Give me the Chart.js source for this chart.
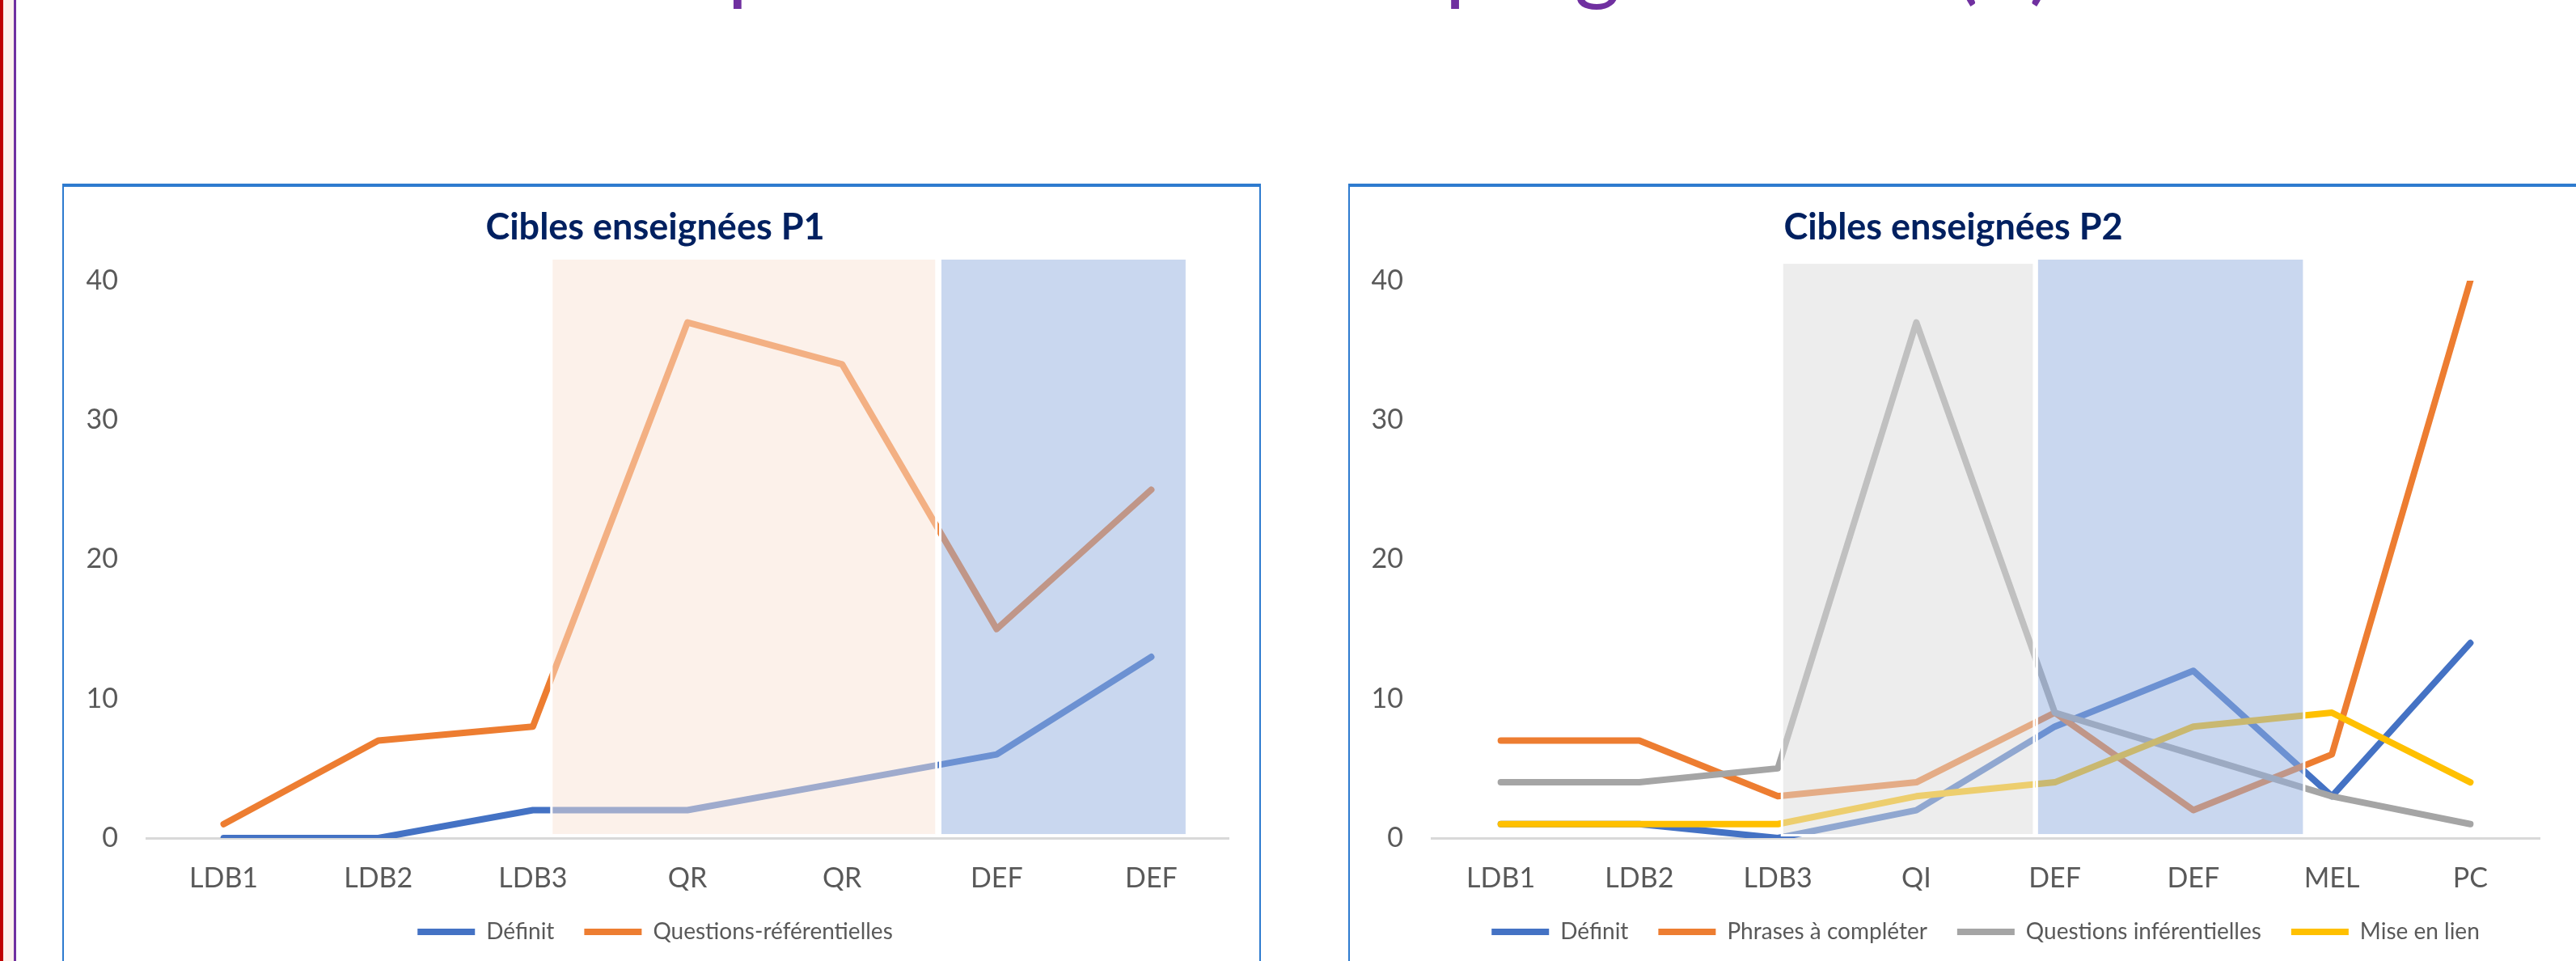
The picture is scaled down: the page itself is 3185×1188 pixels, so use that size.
<!DOCTYPE html>
<html lang="fr">
<head>
<meta charset="utf-8">
<title>Cibles enseignées P1 / P2</title>
<script src="https://cdn.jsdelivr.net/npm/chart.js@4.4.1/dist/chart.umd.min.js"></script>
<style>
  html, body { margin: 0; padding: 0; background: #fff; }
  body { width: 3185px; height: 1188px; position: relative; overflow: hidden; font-family: Lato, sans-serif; }
  .bord-rouge { position: absolute; left: 0; top: 0; width: 4px; height: 100%; background: #C00000; }
  .bord-rose { position: absolute; left: 4px; top: 0; width: 13px; height: 100%; background: #FDF1EC; }
  .bord-violet { position: absolute; left: 17px; top: 0; width: 3px; height: 100%; background: #7030A0; }
  .titre { position: absolute; left: 676px; top: -105px; font-size: 109px; line-height: 109px; color: #7030A0; white-space: nowrap; }
  .panneau { position: absolute; top: 227px; height: 994px; border: 2px solid #2E7BCF; border-top-width: 4px; background: #fff; }
  #p1 { left: 77px; width: 1478px; }
  #p2 { left: 1667px; width: 1526px; }
  canvas { display: block; }
</style>
</head>
<body>
<div class="bord-rouge"></div>
<div class="bord-rose"></div>
<div class="bord-violet"></div>
<div class="titre">Comparaison des deux progressions (1)</div>

<div class="panneau" id="p1"><canvas id="chartP1" width="1478" height="994"></canvas></div>
<div class="panneau" id="p2"><canvas id="chartP2" width="1526" height="994"></canvas></div>

<script>
// Données P1
const categoriesP1 = ['LDB1', 'LDB2', 'LDB3', 'QR', 'QR', 'DEF', 'DEF'];
const definitP1 = [0, 0, 2, 2, 4, 6, 13];
const questionsRefP1 = [1, 7, 8, 37, 34, 15, 25];

// Données P2
const categoriesP2 = ['LDB1', 'LDB2', 'LDB3', 'QI', 'DEF', 'DEF', 'MEL', 'PC'];
const definitP2 = [1, 1, 0, 2, 8, 12, 3, 14];
const phrasesP2 = [7, 7, 3, 4, 9, 2, 6, 40];
const questionsInfP2 = [4, 4, 5, 37, 9, 6, 3, 1];
const miseEnLienP2 = [1, 1, 1, 3, 4, 8, 9, 4];

// Axe des valeurs
const yMin = 0;
const yMax = 40;
const yPas = 10;

const BLEU = '#4472C4';
const ORANGE = '#ED7D31';
const GRIS = '#A5A5A5';
const JAUNE = '#FFC000';
const POLICE = 'Lato';

// Rectangles semi-transparents posés par-dessus les courbes (en unités d'axe)
function pluginZones(zones) {
  return {
    id: 'zones',
    afterDatasetsDraw(chart) {
      const { ctx, scales: { x, y } } = chart;
      ctx.save();
      zones.forEach(z => {
        const x0 = x.getPixelForValue(z.de);
        const x1 = x.getPixelForValue(z.a);
        const y0 = y.getPixelForValue(z.haut);
        const y1 = y.getPixelForValue(z.bas);
        ctx.fillStyle = z.couleur;
        ctx.fillRect(x0, y0, x1 - x0, y1 - y0);
        ctx.strokeStyle = '#ffffff';
        ctx.lineWidth = 3;
        ctx.strokeRect(x0, y0, x1 - x0, y1 - y0);
      });
      ctx.restore();
    }
  };
}

// la dernière série est dessinée au-dessus, comme dans Excel
function serie(label, data, couleur, rang) {
  return {
    label: label,
    data: data,
    order: 10 - rang,
    borderColor: couleur,
    backgroundColor: couleur,
    borderWidth: 8,
    pointRadius: 0,
    pointHoverRadius: 0,
    tension: 0,
    borderJoinStyle: 'round',
    borderCapStyle: 'round',
    fill: false
  };
}

function creerGraphique(id, titre, categories, datasets, zones, marges, legendePleine) {
  const ctx = document.getElementById(id).getContext('2d');
  return new Chart(ctx, {
    type: 'line',
    data: { labels: categories, datasets: datasets },
    plugins: [pluginZones(zones)],
    options: {
      responsive: false,
      animation: false,
      layout: { padding: { left: marges.gauche, right: marges.droite, top: 0, bottom: 49 } },
      plugins: {
        title: {
          display: true,
          text: titre,
          color: '#002060',
          font: { family: POLICE, size: 45, weight: 'bold' },
          padding: { top: 23, bottom: 39 }
        },
        legend: {
          position: 'bottom',
          fullSize: legendePleine,
          labels: {
            usePointStyle: true,
            pointStyle: 'line',
            pointStyleWidth: 71,
            color: '#595959',
            font: { family: POLICE, size: 28 },
            padding: 37,
            sort: (a, b) => a.datasetIndex - b.datasetIndex
          }
        },
        tooltip: { enabled: false }
      },
      scales: {
        x: {
          offset: true,
          grid: { display: false, drawTicks: false },
          border: { display: true, color: '#D9D9D9', width: 3 },
          ticks: { color: '#595959', font: { family: POLICE, size: 34, lineHeight: 1 }, padding: 33, maxRotation: 0, autoSkip: false },
          afterFit: s => { s.height = 65; }
        },
        y: {
          min: yMin,
          max: yMax,
          grid: { display: false, drawTicks: false },
          border: { display: false },
          ticks: { stepSize: yPas, color: '#595959', font: { family: POLICE, size: 34 }, padding: 35 },
          afterFit: s => { s.width = 80; }
        }
      }
    }
  });
}

creerGraphique('chartP1', 'Cibles enseignées P1', categoriesP1, [
  serie('Définit', definitP1, BLEU, 0),
  serie('Questions-référentielles', questionsRefP1, ORANGE, 1)
], [
  { de: 2.12, a: 4.61, bas: 0.2, haut: 41.6, couleur: 'rgba(249, 227, 213, 0.5)' },
  { de: 4.635, a: 6.23, bas: 0.2, haut: 41.6, couleur: 'rgba(147, 175, 223, 0.5)' }
], { gauche: 22, droite: 38 }, true);

creerGraphique('chartP2', 'Cibles enseignées P2', categoriesP2, [
  serie('Définit', definitP2, BLEU, 0),
  serie('Phrases à compléter', phrasesP2, ORANGE, 1),
  serie('Questions inférentielles', questionsInfP2, GRIS, 2),
  serie('Mise en lien', miseEnLienP2, JAUNE, 3)
], [
  { de: 2.03, a: 3.85, bas: 0.2, haut: 41.3, couleur: 'rgba(219, 219, 219, 0.5)' },
  { de: 3.87, a: 5.80, bas: 0.2, haut: 41.6, couleur: 'rgba(147, 175, 223, 0.5)' }
], { gauche: 21, droite: 55 }, false);
</script>
</body>
</html>
